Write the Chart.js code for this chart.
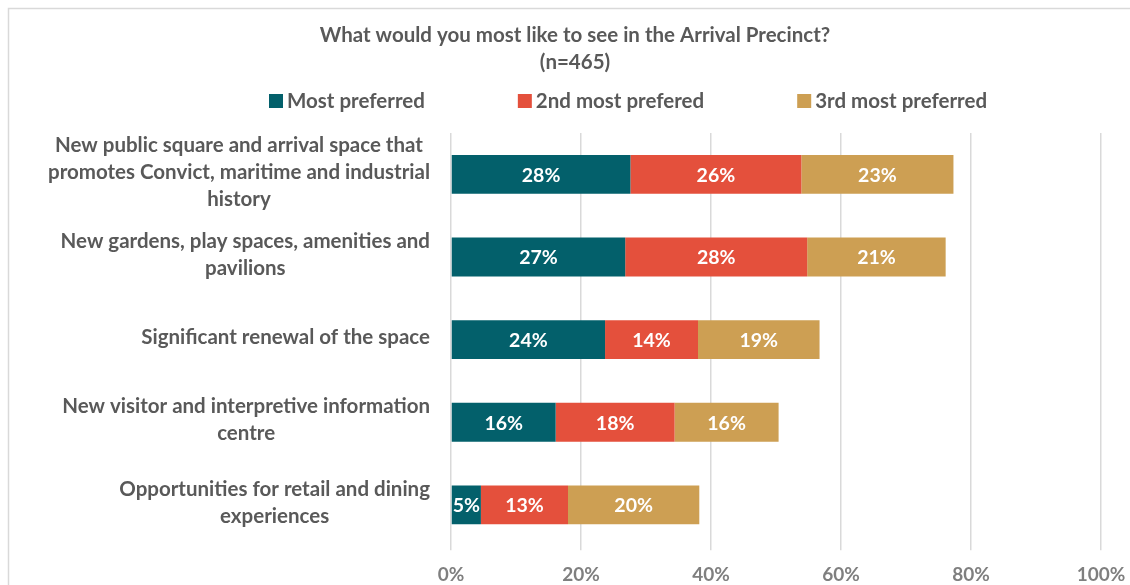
<!DOCTYPE html>
<html>
<head>
<meta charset="utf-8">
<script src="https://cdn.jsdelivr.net/npm/chart.js@4.4.0/dist/chart.umd.min.js"></script>
<style>
    html, body { margin: 0; padding: 0; background: #fff; }
    #wrap { width: 1130px; height: 585px; position: relative; }
</style>
</head>
<body>
<div id="wrap"><canvas id="chart"></canvas></div>
<script>
// Data
const categories = [
    ['New public square and arrival space that', 'promotes Convict, maritime and industrial', 'history'],
    ['New gardens, play spaces, amenities and', 'pavilions'],
    ['Significant renewal of the space'],
    ['New visitor and interpretive information', 'centre'],
    ['Opportunities for retail and dining', 'experiences']
];
const seriesNames = ['Most preferred', '2nd most prefered', '3rd most preferred'];
const mostPreferred = [27.6, 26.8, 23.7, 16.1, 4.6];
const secondPreferred = [26.3, 28.0, 14.3, 18.3, 13.4];
const thirdPreferred = [23.4, 21.3, 18.7, 16.0, 20.2];
const xTicks = [0, 20, 40, 60, 80, 100];
const titleLines = ['What would you most like to see in the Arrival Precinct?', '(n=465)'];

const COLORS = ['#03606B', '#E4503C', '#CD9F53'];
const FONT = 'Lato, "Open Sans", sans-serif';
const GREY = '#595959';

// frame around the chart area (Excel style)
const framePlugin = {
    id: 'frame',
    beforeDraw(chart) {
        const ctx = chart.ctx;
        ctx.save();
        ctx.strokeStyle = '#d9d9d9';
        ctx.lineWidth = 1.5;
        ctx.beginPath();
        ctx.moveTo(8.5, chart.height);
        ctx.lineTo(8.5, 8.5);
        ctx.lineTo(chart.width, 8.5);
        ctx.stroke();
        ctx.restore();
    }
};

// value labels inside the bar segments
const valueLabels = {
    id: 'valueLabels',
    afterDatasetsDraw(chart) {
        const ctx = chart.ctx;
        ctx.save();
        ctx.font = 'bold 19.5px ' + FONT;
        ctx.fillStyle = '#fff';
        ctx.textAlign = 'center';
        ctx.textBaseline = 'middle';
        chart.data.datasets.forEach((ds, di) => {
            chart.getDatasetMeta(di).data.forEach((bar, i) => {
                const p = bar.getProps(['x', 'y', 'base']);
                ctx.fillText(Math.round(ds.data[i]) + '%', (p.x + p.base) / 2, p.y + 1);
            });
        });
        ctx.restore();
    }
};

// multi-line category labels: block right aligned, lines centred
const categoryLabels = {
    id: 'categoryLabels',
    afterDraw(chart) {
        const ctx = chart.ctx;
        const yScale = chart.scales.y;
        const right = chart.chartArea.left - 21;
        const lineH = 27;
        ctx.save();
        ctx.font = 'bold 20.5px ' + FONT;
        ctx.fillStyle = GREY;
        ctx.textAlign = 'center';
        ctx.textBaseline = 'middle';
        chart.data.labels.forEach((lines, i) => {
            const y = yScale.getPixelForTick(i) - 2;
            const w = Math.max(...lines.map(l => ctx.measureText(l).width));
            const cx = right - w / 2;
            const y0 = y - (lines.length - 1) * lineH / 2;
            lines.forEach((l, k) => ctx.fillText(l, cx, y0 + k * lineH));
        });
        ctx.restore();
    }
};

// legend drawn by hand to keep Excel spacing
const legendPlugin = {
    id: 'customLegend',
    afterDraw(chart) {
        const ctx = chart.ctx;
        ctx.save();
        ctx.font = 'bold 20.5px ' + FONT;
        ctx.textBaseline = 'middle';
        ctx.textAlign = 'left';
        let x = 269;
        const y = 101;
        chart.data.datasets.forEach(ds => {
            ctx.fillStyle = ds.backgroundColor;
            ctx.fillRect(x, y - 7, 14, 14);
            ctx.fillStyle = GREY;
            ctx.fillText(ds.label, x + 18, y);
            x += 18 + ctx.measureText(ds.label).width + 93;
        });
        ctx.restore();
    }
};

const datasets = [mostPreferred, secondPreferred, thirdPreferred].map((d, i) => ({
    label: seriesNames[i],
    data: d,
    backgroundColor: COLORS[i],
    borderWidth: 0,
    categoryPercentage: 1,
    barPercentage: 0.47
}));

new Chart(document.getElementById('chart'), {
    type: 'bar',
    data: { labels: categories, datasets: datasets },
    options: {
        indexAxis: 'y',
        responsive: true,
        maintainAspectRatio: false,
        animation: false,
        layout: { padding: { left: 49, right: 29, top: 0, bottom: -14 } },
        plugins: {
            legend: { display: false },
            tooltip: { enabled: false },
            title: {
                display: true,
                text: titleLines,
                color: GREY,
                font: { family: FONT, size: 20.5, weight: 'bold', lineHeight: 27 / 20.5 },
                padding: { top: 22, bottom: 57 }
            }
        },
        scales: {
            x: {
                stacked: true,
                min: 0,
                max: 100,
                afterBuildTicks: scale => { scale.ticks = xTicks.map(v => ({ value: v })); },
                afterFit: scale => { scale.paddingLeft = 0; scale.paddingRight = 0; },
                grid: { color: '#d9d9d9', lineWidth: 1.5, tickLength: 4 },
                border: { display: false },
                ticks: {
                    color: '#7f7f7f',
                    padding: 13,
                    font: { family: FONT, size: 19, weight: 'bold' },
                    callback: v => v + '%'
                }
            },
            y: {
                stacked: true,
                grid: { display: false },
                border: { display: false },
                ticks: { display: false },
                afterFit: scale => { scale.width = 402; }
            }
        }
    },
    plugins: [framePlugin, valueLabels, categoryLabels, legendPlugin]
});
</script>
</body>
</html>
